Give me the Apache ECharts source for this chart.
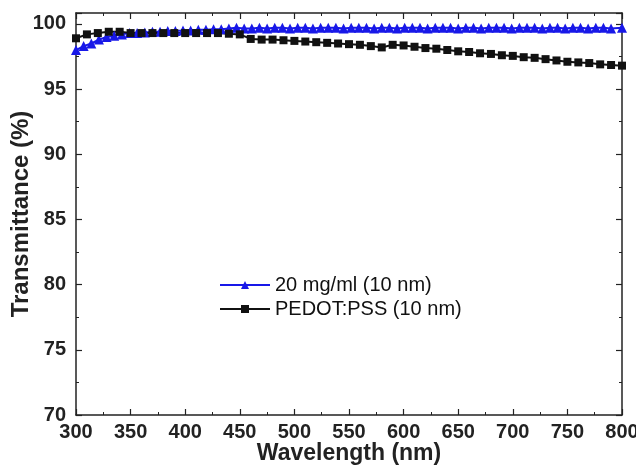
<!DOCTYPE html>
<html lang="en">
<head>
  <meta charset="UTF-8">
  <title>Transmittance</title>
  <script src="https://cdn.jsdelivr.net/npm/echarts@6/dist/echarts.min.js"></script>
  <style>
    body { margin: 0; background: #fff; }
    #chart { width: 636px; height: 465px; }
  </style>
</head>
<body>
<div id="chart"></div>
<script>
  // 20 mg/ml (10 nm) - blue triangles
  var blueX = [300, 307, 314, 321, 328, 335, 342, 349, 356, 363, 370, 377, 384, 391, 398, 405, 412, 419, 426, 433,
    440, 447, 454, 461, 468, 475, 482, 489, 496, 503, 510, 517, 524, 531, 538, 545, 552, 559, 566, 573,
    580, 587, 594, 601, 608, 615, 622, 629, 636, 643, 650, 657, 664, 671, 678, 685, 692, 699, 706, 713,
    720, 727, 734, 741, 748, 755, 762, 769, 776, 783, 790, 800];
  var blueY = [98.0, 98.3, 98.5, 98.8, 99.0, 99.1, 99.2, 99.3, 99.3, 99.35, 99.4, 99.4, 99.45, 99.45, 99.5, 99.5, 99.55, 99.55, 99.6, 99.6,
    99.65, 99.7, 99.65, 99.65, 99.7, 99.65, 99.7, 99.7, 99.65, 99.7, 99.7, 99.65, 99.7, 99.7, 99.7, 99.65, 99.7, 99.7, 99.7, 99.65,
    99.7, 99.7, 99.65, 99.7, 99.7, 99.7, 99.65, 99.7, 99.7, 99.7, 99.65, 99.7, 99.7, 99.65, 99.7, 99.7, 99.7, 99.65, 99.7, 99.7,
    99.7, 99.65, 99.7, 99.7, 99.65, 99.7, 99.7, 99.65, 99.7, 99.7, 99.65, 99.7];

  // PEDOT:PSS (10 nm) - black squares
  var blackX = [300, 310, 320, 330, 340, 350, 360, 370, 380, 390, 400, 410, 420, 430, 440, 450, 460, 470, 480, 490,
    500, 510, 520, 530, 540, 550, 560, 570, 580, 590, 600, 610, 620, 630, 640, 650, 660, 670, 680, 690,
    700, 710, 720, 730, 740, 750, 760, 770, 780, 790, 800];
  var blackY = [98.9, 99.2, 99.3, 99.4, 99.4, 99.3, 99.3, 99.3, 99.3, 99.3, 99.3, 99.3, 99.3, 99.3, 99.25, 99.2, 98.85, 98.8, 98.8, 98.75,
    98.7, 98.65, 98.6, 98.55, 98.5, 98.45, 98.4, 98.3, 98.2, 98.4, 98.35, 98.25, 98.15, 98.1, 98.0, 97.9, 97.85, 97.75, 97.7, 97.6,
    97.55, 97.45, 97.4, 97.3, 97.2, 97.1, 97.05, 97.0, 96.9, 96.85, 96.8];

  var seriesNames = ['20 mg/ml (10 nm)', 'PEDOT:PSS (10 nm)'];
  var xTicks = {min: 300, max: 800, interval: 50};
  var yTicks = {min: 70, max: 100.84, interval: 5};

  function pairs(xs, ys) {
    var out = [];
    for (var i = 0; i < xs.length; i++) out.push([xs[i], ys[i]]);
    return out;
  }

  var font = 'Liberation Sans, Arial, sans-serif';
  var axisLine = {show: true, lineStyle: {color: '#222', width: 1.5}};
  var tick = {show: true, inside: true, length: 6, lineStyle: {color: '#222', width: 1.2}};
  var minor = {show: true, splitNumber: 2, length: 3, lineStyle: {color: '#222', width: 1}};

  var myChart = echarts.init(document.getElementById('chart'));
  var option = {
    backgroundColor: '#fff',
    animation: false,
    grid: {left: 76, right: 14, top: 13, bottom: 50, outerBoundsMode: 'none', containLabel: false},
    legend: {
      orient: 'vertical',
      left: 214,
      top: 270,
      itemWidth: 50,
      itemHeight: 10,
      itemGap: 4,
      textStyle: {fontFamily: font, fontSize: 20, color: '#111'},
      data: seriesNames
    },
    xAxis: [{
      type: 'value', min: xTicks.min, max: xTicks.max, interval: xTicks.interval,
      name: 'Wavelength (nm)', nameLocation: 'middle', nameGap: 27, nameMoveOverlap: false,
      nameTextStyle: {fontFamily: font, fontSize: 23, fontWeight: 'bold', color: '#222'},
      axisLine: axisLine, axisTick: tick, minorTick: minor,
      axisLabel: {fontFamily: font, fontSize: 20, fontWeight: 'bold', color: '#222', margin: 7},
      splitLine: {show: false}
    }, {
      type: 'value', position: 'top', min: xTicks.min, max: xTicks.max, interval: xTicks.interval,
      axisLine: axisLine, axisTick: tick, minorTick: minor,
      axisLabel: {show: false}, splitLine: {show: false}
    }],
    yAxis: [{
      type: 'value', min: yTicks.min, max: yTicks.max, interval: yTicks.interval,
      name: 'Transmittance (%)', nameLocation: 'middle', nameGap: 43, nameMoveOverlap: false,
      nameTextStyle: {fontFamily: font, fontSize: 24, fontWeight: 'bold', color: '#222'},
      axisLine: axisLine, axisTick: tick, minorTick: minor,
      axisLabel: {fontFamily: font, fontSize: 20, fontWeight: 'bold', color: '#222', margin: 10,
        showMaxLabel: false},
      splitLine: {show: false}
    }, {
      type: 'value', position: 'right', min: yTicks.min, max: yTicks.max, interval: yTicks.interval,
      axisLine: axisLine, axisTick: tick, minorTick: minor,
      axisLabel: {show: false}, splitLine: {show: false}
    }],
    series: [{
      name: seriesNames[0],
      type: 'line',
      data: pairs(blueX, blueY),
      symbol: 'triangle',
      symbolSize: 10,
      itemStyle: {color: '#1818e8'},
      lineStyle: {color: '#1818e8', width: 2}
    }, {
      name: seriesNames[1],
      type: 'line',
      data: pairs(blackX, blackY),
      symbol: 'rect',
      symbolSize: 8,
      itemStyle: {color: '#111'},
      lineStyle: {color: '#111', width: 2}
    }]
  };
  option && myChart.setOption(option);
</script>
</body>
</html>
